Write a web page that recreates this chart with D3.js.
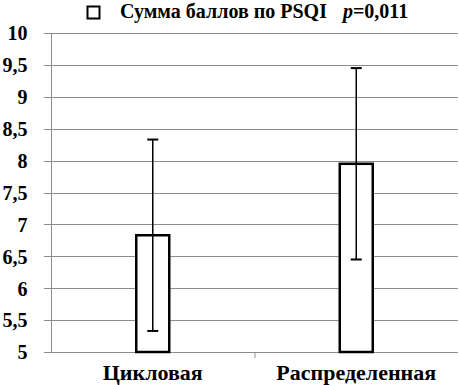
<!DOCTYPE html>
<html><head><meta charset="utf-8">
<script src="https://cdn.jsdelivr.net/npm/d3@7"></script>
<style>body{margin:0;background:#fff}svg{display:block}</style>
</head><body>
<script>
const categories = ["Цикловая", "Распределенная"];
const means = [6.83, 7.95];
const errors = [1.5, 1.5];
const yTicks = [5, 5.5, 6, 6.5, 7, 7.5, 8, 8.5, 9, 9.5, 10];
const legendLabel = "Сумма баллов по PSQI";
const pLabel = "=0,011";

const FONT = "Liberation Serif";
const W = 459, H = 385;
const svg = d3.select("body").append("svg").attr("width", W).attr("height", H);
const m = {l: 51, r: 1, t: 33, b: 33};
const x = d3.scaleBand().domain(categories).range([m.l, W - m.r]);
const y = d3.scaleLinear().domain([5, 10]).range([H - m.b, m.t]);
const fmt = d => String(d).replace(".", ",");

// gridlines
svg.append("g").selectAll("line").data(yTicks).join("line")
  .attr("x1", m.l - 7).attr("x2", W - m.r)
  .attr("y1", d => Math.round(y(d)) + 0.5).attr("y2", d => Math.round(y(d)) + 0.5)
  .attr("stroke", "#8c8c8c").attr("stroke-width", 1);

// y axis
const ya = svg.append("g").attr("transform", `translate(${m.l + 0.5},0)`)
  .call(d3.axisLeft(y).tickValues(yTicks).tickFormat(fmt).tickSize(0).tickPadding(24))
  .attr("font-family", FONT).attr("font-weight", "bold").attr("font-size", 20);
ya.select(".domain").attr("stroke", "#8c8c8c").attr("d", `M0,${m.t}V${H - m.b + 1}`);
ya.selectAll("text").attr("fill", "#000").attr("dy", "0.34em");

// x axis
const xa = svg.append("g").attr("transform", `translate(0,${Math.round(y(5)) + 0.5})`)
  .call(d3.axisBottom(x).tickSize(0).tickPadding(0))
  .attr("font-family", FONT).attr("font-weight", "bold").attr("font-size", 22);
xa.select(".domain").remove();
xa.selectAll("text").attr("fill", "#000").attr("dy", 0).attr("y", 27.5);
// category separator tick
svg.append("line").attr("x1", x(categories[1]) + 0.5).attr("x2", x(categories[1]) + 0.5)
  .attr("y1", y(5)).attr("y2", y(5) + 6).attr("stroke", "#8c8c8c");

// bars
const bw = 33;
svg.append("g").selectAll("rect").data(categories).join("rect")
  .attr("x", d => x(d) + x.bandwidth() / 2 - bw / 2)
  .attr("y", (d, i) => y(means[i]))
  .attr("width", bw)
  .attr("height", (d, i) => y(5) - y(means[i]))
  .attr("fill", "#fff").attr("stroke", "#000").attr("stroke-width", 2.5);

// error bars
const eg = svg.append("g").attr("stroke", "#000").attr("stroke-width", 1.5);
categories.forEach((c, i) => {
  const cx = x(c) + x.bandwidth() / 2;
  eg.append("line").attr("x1", cx).attr("x2", cx).attr("y1", y(means[i] + errors[i])).attr("y2", y(means[i] - errors[i]));
  [means[i] + errors[i], means[i] - errors[i]].forEach(v => {
    eg.append("line").attr("x1", cx - 5.5).attr("x2", cx + 5.5).attr("y1", y(v)).attr("y2", y(v)).attr("stroke-width", 2);
  });
});

// legend
svg.append("rect").attr("x", 87.5).attr("y", 6.5).attr("width", 12).attr("height", 12)
  .attr("fill", "#fff").attr("stroke", "#000").attr("stroke-width", 2);
const lt = svg.append("text").attr("x", 120).attr("y", 18).attr("fill", "#000")
  .attr("font-family", FONT).attr("font-weight", "bold").attr("font-size", 20);
lt.append("tspan").text(legendLabel);
lt.append("tspan").attr("dx", 16).attr("font-style", "italic").text("p");
lt.append("tspan").text(pLabel);
</script>
</body></html>
